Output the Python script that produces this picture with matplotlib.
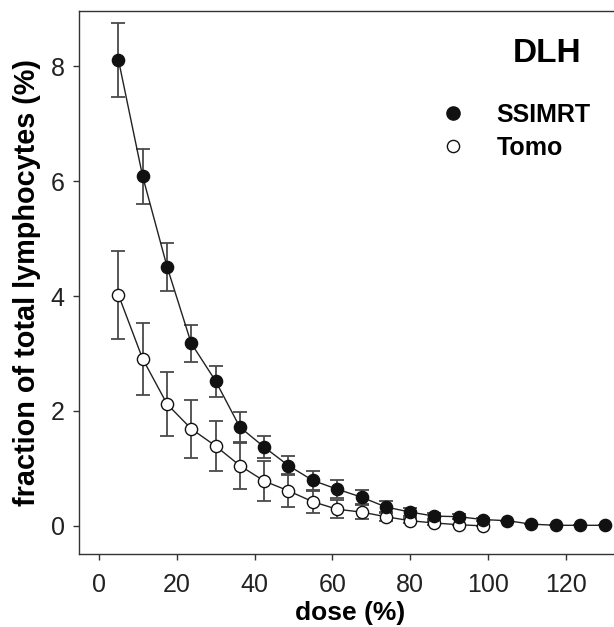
import matplotlib
matplotlib.use("Agg")
import matplotlib.pyplot as plt
from matplotlib.lines import Line2D

plt.rcParams['font.family'] = ['Liberation Sans', 'DejaVu Sans']

# ---- data ----
dose_ssimrt = [5, 11.2, 17.5, 23.7, 30, 36.2, 42.5, 48.7, 55, 61.2, 67.5,
               73.7, 80, 86.2, 92.5, 98.7, 105, 111.2, 117.5, 123.7, 130]
ssimrt = [8.11, 6.09, 4.51, 3.18, 2.52, 1.72, 1.37, 1.05, 0.79, 0.64, 0.50,
          0.33, 0.24, 0.17, 0.16, 0.11, 0.09, 0.03, 0.01, 0.01, 0.01]
ssimrt_err = [0.64, 0.48, 0.42, 0.32, 0.27, 0.26, 0.19, 0.16, 0.16, 0.16, 0.12,
              0.10, 0.07, 0.05, 0.04, 0.03, 0.0, 0.0, 0.0, 0.0, 0.0]

dose_tomo = [5, 11.2, 17.5, 23.7, 30, 36.2, 42.5, 48.7, 55, 61.2, 67.5,
             73.7, 80, 86.2, 92.5, 98.7]
tomo = [4.02, 2.91, 2.12, 1.69, 1.39, 1.05, 0.78, 0.61, 0.42, 0.29, 0.24,
        0.16, 0.09, 0.05, 0.02, 0.00]
tomo_err = [0.76, 0.63, 0.56, 0.50, 0.44, 0.40, 0.35, 0.29, 0.19, 0.16, 0.12,
            0.08, 0.04, 0.03, 0.0, 0.0]

xticks = [0, 20, 40, 60, 80, 100, 120]
yticks = [0, 2, 4, 6, 8]

# ---- figure ----
fig = plt.figure(figsize=(6.14, 6.27), dpi=100)
ax = fig.add_axes([0.129, 0.1164, 0.881, 0.8666])

line_c = '#222222'
err_c = '#4a4a4a'

ax.errorbar(dose_ssimrt, ssimrt, yerr=ssimrt_err, fmt='none', ecolor=err_c,
            elinewidth=1.3, capsize=5, capthick=1.3, zorder=2)
ax.errorbar(dose_tomo, tomo, yerr=tomo_err, fmt='none', ecolor=err_c,
            elinewidth=1.3, capsize=5, capthick=1.3, zorder=2)

ax.plot(dose_tomo, tomo, '-', color=line_c, lw=1.0, marker='o', ms=8.8,
        mfc='white', mec='#111111', mew=1.0, zorder=3)
ax.plot(dose_ssimrt, ssimrt, '-', color=line_c, lw=1.0, marker='o', ms=8.8,
        mfc='#111111', mec='#111111', mew=1.0, zorder=4)

ax.set_xlim(-5.1, 134)
ax.set_ylim(-0.49, 8.97)
ax.set_xticks(xticks)
ax.set_yticks(yticks)

for s in ['left', 'bottom', 'top']:
    ax.spines[s].set_color('#333333')
    ax.spines[s].set_linewidth(1.0)
ax.spines['right'].set_visible(False)

ax.tick_params(axis='both', direction='out', length=4.5, width=1.0,
               color='#333333', labelsize=18, labelcolor='#222222')
ax.tick_params(axis='x', pad=9)
ax.tick_params(axis='y', pad=6)

ax.set_xlabel('dose (%)', fontsize=19, fontweight='bold', labelpad=3)
ax.set_ylabel('fraction of total lymphocytes (%)', fontsize=20.8,
              fontweight='bold', labelpad=7)

ax.text(0.865, 0.922, 'DLH', transform=ax.transAxes, fontsize=24,
        fontweight='bold', ha='center', va='center')

handles = [
    Line2D([], [], ls='none', marker='o', ms=9.5, mfc='#111111', mec='#111111'),
    Line2D([], [], ls='none', marker='o', ms=8.8, mfc='white', mec='#111111'),
]
leg = ax.legend(handles, ['SSIMRT', 'Tomo'], loc='upper left',
                bbox_to_anchor=(0.649, 0.8485), frameon=False,
                prop={'size': 18, 'weight': 'bold'}, handlelength=1.0,
                handletextpad=1.26, labelspacing=0.35, borderaxespad=0)

fig.savefig('out.png', dpi=100)
